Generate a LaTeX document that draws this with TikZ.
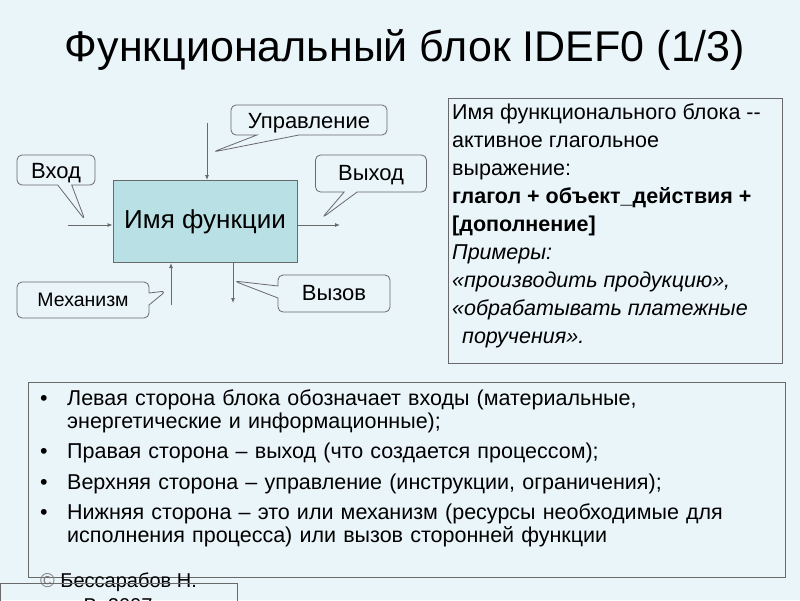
\documentclass[tikz,border=0pt]{standalone}
\usepackage{fontspec}
\setmainfont{Liberation Sans}
\definecolor{slidebg}{RGB}{234,245,250}
\definecolor{funcfill}{RGB}{185,224,228}
\definecolor{framegray}{RGB}{105,105,105}
\definecolor{copygray}{RGB}{125,125,125}
\usetikzlibrary{arrows.meta, shapes.callouts, calc}
\tikzset{
	funcbox/.style={rectangle, draw=framegray, fill=funcfill, line width=1pt, minimum width=184pt, minimum height=82pt, font=\fontsize{26}{30}\selectfont},
	tag/.style={rectangle callout, rounded corners=5pt, draw=framegray, fill=slidebg, line width=0.8pt, inner sep=0pt, font=\fontsize{22}{26}\selectfont},
	infobox/.style={rectangle, draw=framegray, line width=1pt},
	flowarrow/.style={-{Latex[length=5pt, width=4pt]}, line width=0.8pt, draw=framegray},
}
\newcommand{\bul}{\par\hangindent=27pt\makebox[27pt][l]{•}}
\newcommand{\low}[2]{\raisebox{-#1}[\height][\depth]{#2}}
\begin{document}
\begin{tikzpicture}[x=1pt, y=-1pt]
		\clip (0,0) rectangle (800,600);
		\fill[slidebg] (0,0) rectangle (800,600);
		\node[font=\fontsize{43}{46}\selectfont] (title) at (405,50) {Функциональный блок IDEF0 (1/3)};
		% IDEF0 block and its four sides
		\node[funcbox] (func) at (205,221.5) {Имя функции};
		\coordinate (inS) at (68,225);
		\coordinate (outE) at (340,225);
		\coordinate (ctlS) at (207,123);
		\coordinate (mechS) at (171,305);
		\coordinate (callE) at (233,303);
		\draw[flowarrow] (inS) -- (inS -| func.west);
		\draw[flowarrow] (outE -| func.east) -- (outE);
		\draw[flowarrow] (ctlS) -- (ctlS |- func.north);
		\draw[flowarrow] (mechS) -- (mechS |- func.south);
		\draw[flowarrow] (callE |- func.south) -- (callE);
		% callouts
		\node[tag, minimum width=78pt, minimum height=30pt, callout pointer width=14pt, callout absolute pointer={(85,220)}] (inTag) at (56,170) {\low{3pt}{Вход}};
		\node[tag, minimum width=156pt, minimum height=30pt, callout pointer width=42pt, callout absolute pointer={(213,152)}] (ctlTag) at (309,120) {\low{3pt}{Управление}};
		\node[tag, minimum width=111pt, minimum height=37pt, callout pointer width=13pt, callout absolute pointer={(322,218)}] (outTag) at (371,173.5) {\low{2pt}{Выход}};
		\node[tag, minimum width=132pt, minimum height=36pt, callout pointer width=12pt, callout absolute pointer={(166,291)}, font=\fontsize{19.5}{23}\selectfont] (mechTag) at (83,300) {Механизм};
		\node[tag, minimum width=112pt, minimum height=37pt, callout pointer width=12pt, callout absolute pointer={(234,281)}] (callTag) at (334,293.5) {Вызов};
		% naming rule
		\node[infobox, minimum width=334pt, minimum height=265pt] (rule) at (615,230.5) {};
		\node[anchor=north west, inner sep=0pt, align=left, font=\fontsize{21.5}{28}\selectfont] (ruleText) at (452,104) {Имя функционального блока -{}-\\
			активное глагольное\\
			выражение:\\
			\textbf{глагол + объект\_действия +}\\
			\textbf{[дополнение]}\\
			\textit{Примеры:}\\
			\textit{«производить продукцию»,}\\
			\textit{«обрабатывать платежные}\\
			\textit{\hspace*{10pt}поручения».}};
		% sides explained
		\node[infobox, minimum width=757pt, minimum height=195pt] (sides) at (406.5,479.5) {};
		\node[anchor=north west, inner sep=0pt, text width=727pt, align=left, font=\fontsize{21.5}{23}\selectfont] (sidesText) at (40,382) {%
			\bul Левая сторона блока обозначает входы (материальные, энергетические и информационные);\par\vspace{7.5pt}
			\bul Правая сторона – выход (что создается процессом);\par\vspace{7.5pt}
			\bul Верхняя сторона – управление (инструкции, ограничения);\par\vspace{7.5pt}
			\bul Нижняя сторона – это или механизм (ресурсы необходимые для исполнения процесса) или вызов сторонней функции\par};
		% footer
		\node[anchor=west, inner sep=0pt, font=\fontsize{20}{24}\selectfont] (author) at (40,582) {\textcolor{copygray}{©} Бессарабов Н.};
		\node[inner sep=0pt, font=\fontsize{20}{24}\selectfont] (year) at (118,606) {В. 2007};
		\node[infobox, anchor=north west, minimum width=237pt, minimum height=30pt] (footer) at (0,583) {};
	\end{tikzpicture}
\end{document}
